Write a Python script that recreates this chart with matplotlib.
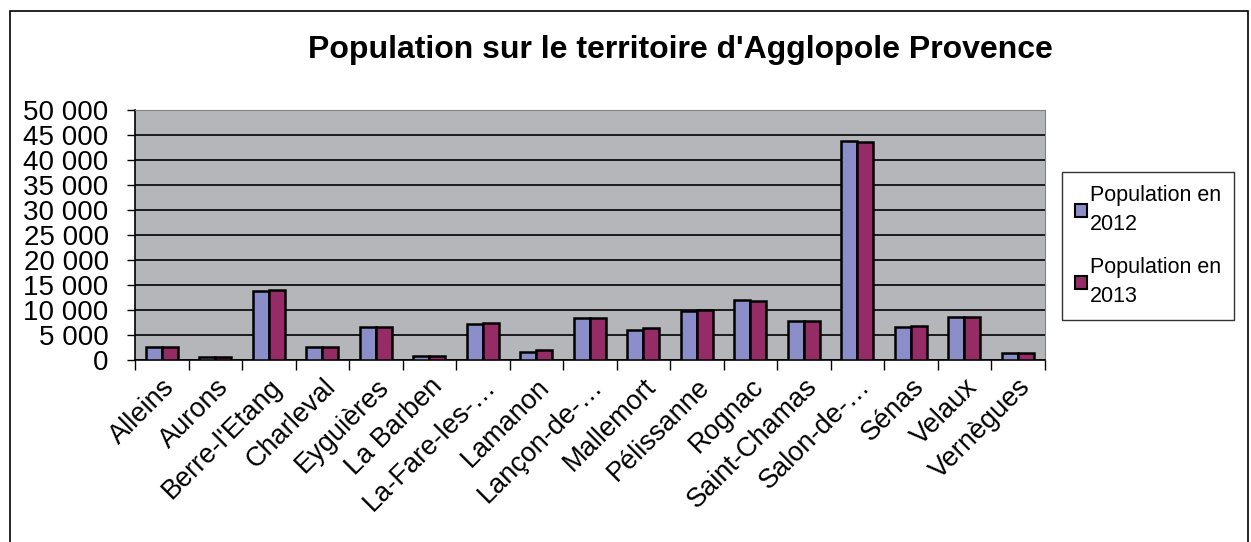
import matplotlib
from matplotlib import pyplot as plt
from matplotlib.patches import Rectangle
from matplotlib.ticker import FuncFormatter
import numpy as np

matplotlib.rc("font", family=["Liberation Sans", "DejaVu Sans"])

communes = [
    "Alleins", "Aurons", "Berre-l'Etang", "Charleval", "Eyguières",
    "La Barben", "La-Fare-les-…", "Lamanon", "Lançon-de-…", "Mallemort",
    "Pélissanne", "Rognac", "Saint-Chamas", "Salon-de-…", "Sénas",
    "Velaux", "Vernègues",
]
pop_2012 = [2500, 500, 13800, 2500, 6600, 700, 7150, 1650, 8400, 6050,
            9700, 12000, 7850, 43800, 6600, 8650, 1450]
pop_2013 = [2500, 500, 14050, 2500, 6600, 700, 7450, 2050, 8350, 6300,
            9950, 11750, 7850, 43550, 6850, 8650, 1450]
series_labels = ["Population en\n2012", "Population en\n2013"]
colors = ["#8b8ec8", "#952c66"]

fig = plt.figure(figsize=(12.51, 5.42), dpi=100)
ax = fig.add_axes([0.108, 0.336, 0.727, 0.461])

x = np.arange(len(communes))
w = 0.3
b1 = ax.bar(x - w / 2, pop_2012, w, color=colors[0], edgecolor="black", linewidth=1.8,
            label=series_labels[0], zorder=3)
b2 = ax.bar(x + w / 2, pop_2013, w, color=colors[1], edgecolor="black", linewidth=1.8,
            label=series_labels[1], zorder=3)

ax.set_facecolor("#b5b6ba")
ax.set_xlim(-0.5, len(communes) - 0.5)
ax.set_ylim(0, 50000)
ax.set_yticks(np.arange(0, 50001, 5000))
ax.yaxis.set_major_formatter(FuncFormatter(lambda v, p: "{:,}".format(int(v)).replace(",", " ")))
ax.grid(axis="y", color="black", linewidth=1.2, zorder=1)
ax.tick_params(axis="y", labelsize=20, length=6, width=1, direction="out", pad=13)

ax.set_xticks(x)
ax.set_xticklabels(communes, rotation=45, ha="right", rotation_mode="anchor", fontsize=19.5)
ax.tick_params(axis="x", which="major", length=0, pad=10)
ax.set_xticks(np.arange(-0.5, len(communes), 1), minor=True)
ax.tick_params(axis="x", which="minor", length=7, width=1, direction="out")

for s in ["top", "right"]:
    ax.spines[s].set_color("#808080")
for s in ["left", "bottom"]:
    ax.spines[s].set_color("black")
    ax.spines[s].set_linewidth(1.2)

fig.text(0.544, 0.907, "Population sur le territoire d'Agglopole Provence",
         ha="center", va="center", fontsize=23, fontweight="bold")

leg = fig.legend(handles=[b1, b2], loc="center left", bbox_to_anchor=(0.849, 0.546),
                 fontsize=15.5, frameon=True, fancybox=False, handlelength=0.55,
                 handleheight=0.55, handletextpad=0.15, labelspacing=1.0,
                 borderpad=0.6, borderaxespad=0)
leg.get_frame().set_edgecolor("black")
leg.get_frame().set_linewidth(1)
for h in leg.legend_handles:
    h.set_linewidth(1.5)
for t in leg.get_texts():
    t.set_linespacing(1.5)

fig.patches.append(Rectangle((0.008, -0.05), 0.99, 1.03, transform=fig.transFigure,
                             fill=False, edgecolor="black", linewidth=1.2))

plt.savefig("out.png", dpi=100)
